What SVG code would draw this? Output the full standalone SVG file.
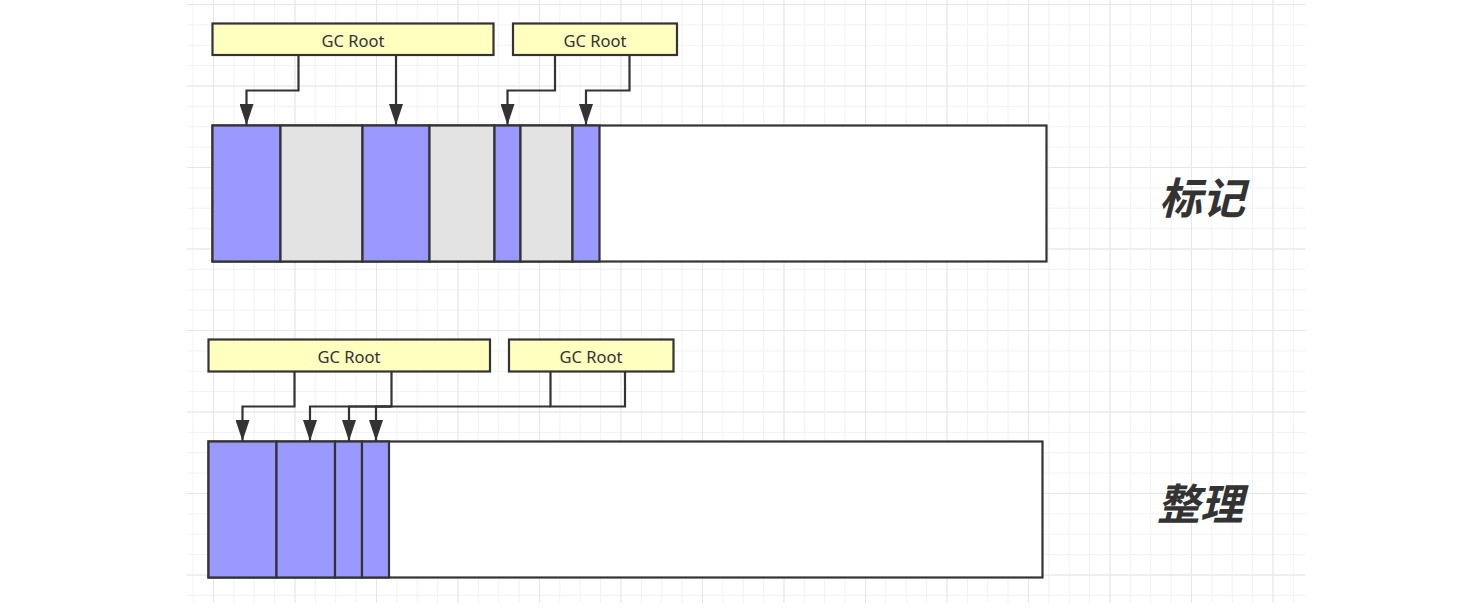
<svg xmlns="http://www.w3.org/2000/svg" width="1471" height="612" viewBox="0 0 1471 612">
<style>
.box{fill:#ffffc0;stroke:#333;stroke-width:2.2}
.lbl{font-family:"Noto Sans","Open Sans","Liberation Sans",sans-serif;font-size:16.5px;fill:#333;text-anchor:middle}
.bar{fill:#fff;stroke:#333;stroke-width:2.2}
.p{fill:#9999ff;stroke:#333;stroke-width:2.2}
.g{fill:#e3e3e3;stroke:#333;stroke-width:2.2}
.c{fill:none;stroke:#333;stroke-width:2.2}
.ttl{font-family:"Noto Sans CJK SC","Noto Sans",sans-serif;font-size:43px;font-weight:bold;font-style:italic;fill:#333;text-anchor:middle}
</style>
<defs>
<pattern id="gmin" x="192.6" y="4" width="20.375" height="20.375" patternUnits="userSpaceOnUse"><path d="M0.5 0V20.375M0 0.5H20.375" stroke="#f1f1f1" stroke-width="1" fill="none"/></pattern>
<pattern id="gmaj" x="213" y="4" width="81.5" height="81.5" patternUnits="userSpaceOnUse"><path d="M0.5 0V81.5M0 0.5H81.5" stroke="#e6e6e6" stroke-width="1" fill="none"/></pattern>
<marker id="ah" markerWidth="21" markerHeight="14" refX="21" refY="7" orient="auto" markerUnits="userSpaceOnUse" viewBox="0 0 21 14"><path d="M0,0 L21,7 L0,14 Z" fill="#333"/></marker>
</defs>
<rect width="1471" height="612" fill="#fff"/>
<rect x="187" y="0" width="1118.5" height="603" fill="url(#gmin)"/>
<rect x="187" y="0" width="1118.5" height="603" fill="url(#gmaj)"/>

<g id="mark-memory">
<rect class="bar" x="212.5" y="125.5" width="834" height="136"/>
<rect class="p" x="212.5" y="125.5" width="68" height="136"/>
<rect class="g" x="280.5" y="125.5" width="82" height="136"/>
<rect class="p" x="362.5" y="125.5" width="67" height="136"/>
<rect class="g" x="429.5" y="125.5" width="65" height="136"/>
<rect class="p" x="494.5" y="125.5" width="26" height="136"/>
<rect class="g" x="520.5" y="125.5" width="52" height="136"/>
<rect class="p" x="572.5" y="125.5" width="27" height="136"/>
</g>
<g id="mark-root1"><rect class="box" x="212.5" y="23.5" width="281" height="31.5"/><text class="lbl" x="353" y="46.5">GC Root</text></g>
<g id="mark-root2"><rect class="box" x="513" y="23.5" width="164" height="31.5"/><text class="lbl" x="595" y="46.5">GC Root</text></g>
<g id="mark-title"><text class="ttl" x="1202" y="214">标记</text></g>

<g id="compact-memory">
<rect class="bar" x="208.5" y="441.5" width="834" height="136"/>
<rect class="p" x="208.5" y="441.5" width="68" height="136"/>
<rect class="p" x="276.5" y="441.5" width="58.5" height="136"/>
<rect class="p" x="335" y="441.5" width="27" height="136"/>
<rect class="p" x="362" y="441.5" width="27" height="136"/>
</g>
<g id="compact-root1"><rect class="box" x="208.5" y="339.5" width="281.5" height="32"/><text class="lbl" x="349" y="362.5">GC Root</text></g>
<g id="compact-root2"><rect class="box" x="509" y="339.5" width="164.5" height="32"/><text class="lbl" x="591" y="362.5">GC Root</text></g>
<g id="compact-title"><text class="ttl" x="1200" y="520">整理</text></g>

<g id="connectors">
<path class="c" d="M298.5 55V90.5H246.5V125" marker-end="url(#ah)"/>
<path class="c" d="M396 55V125" marker-end="url(#ah)"/>
<path class="c" d="M555 55V90.5H507.5V125" marker-end="url(#ah)"/>
<path class="c" d="M629.5 55V90.5H586V125" marker-end="url(#ah)"/>
<path class="c" d="M294.5 371.5V406.5H242.5V441" marker-end="url(#ah)"/>
<path class="c" d="M550.5 371.5V406.5H625V371.5"/>
<path class="c" d="M391.5 371.5V406.5H310V441" marker-end="url(#ah)"/>
<path class="c" d="M391.5 406.5H349V441" marker-end="url(#ah)"/>
<path class="c" d="M391.5 406.5H376V441" marker-end="url(#ah)"/>
<path class="c" d="M391.5 406.5H550.5"/>
</g>
</svg>
